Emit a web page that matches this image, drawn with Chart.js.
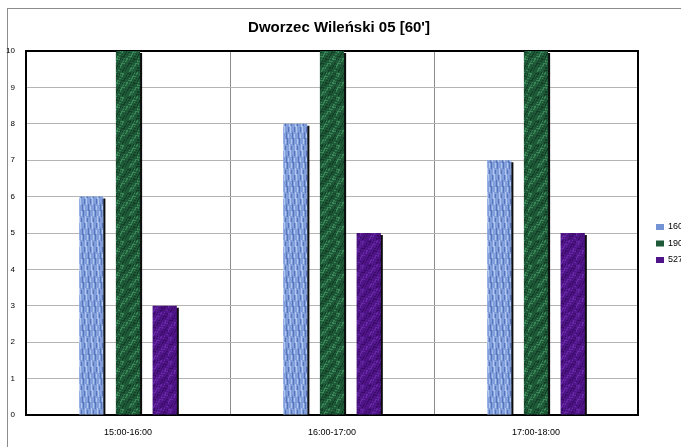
<!DOCTYPE html>
<html>
<head>
<meta charset="utf-8">
<script src="https://cdn.jsdelivr.net/npm/chart.js@4"></script>
<style>
  html, body { margin: 0; padding: 0; background: #fff; overflow: hidden; }
  #wrap { width: 681px; height: 447px; }
</style>
</head>
<body>
<div id="wrap"><canvas id="myChart" width="681" height="447"></canvas></div>
<script>
// data
const chartTitle = "Dworzec Wileński 05 [60']";
const hours = ["15:00-16:00", "16:00-17:00", "17:00-18:00"];
const lines = ["160", "190", "527"];
const line160 = [6, 8, 7];
const line190 = [10, 10, 10];
const line527 = [3, 5, 5];
const yTicks = [0, 1, 2, 3, 4, 5, 6, 7, 8, 9, 10];

// small textures to imitate the office-style fills
function makeTexture(base, dark, light, kind) {
  const c = document.createElement("canvas");
  c.width = 24; c.height = 24;
  const g = c.getContext("2d");
  g.fillStyle = base;
  g.fillRect(0, 0, 24, 24);
  for (let x = 0; x < 24; x++) {
    for (let y = 0; y < 24; y++) {
      let v;
      if (kind === "water") {
        v = Math.sin(x * 1.05 + Math.sin(y * 0.52) * 1.6) + 0.6 * Math.sin(x * 2.1 - y * 0.26);
      } else {
        v = Math.sin(x * 0.9 + y * 1.7) * Math.cos(x * 1.4 - y * 0.6) + Math.sin((x + y) * 0.45);
      }
      if (v > 0.9) { g.fillStyle = light; g.fillRect(x, y, 1, 1); }
      else if (v < -0.9) { g.fillStyle = dark; g.fillRect(x, y, 1, 1); }
    }
  }
  return g.createPattern(c, "repeat");
}

const blueFill = makeTexture("#829fdc", "#5676bb", "#b2c7ef", "water");
const greenFill = makeTexture("#1f5a38", "#143f27", "#3a8558", "marble");
const purpleFill = makeTexture("#4e1488", "#3a0c68", "#6628a2", "marble");
const swatch = ["#7394d4", "#1f5a38", "#4e1488"];

const ctx = document.getElementById("myChart").getContext("2d");

// frame, title, plot box, bar shadow and legend
const decor = {
  id: "decor",
  beforeDraw(chart) {
    const c = chart.ctx;
    c.save();
    c.fillStyle = "#fff";
    c.fillRect(0, 0, chart.width, chart.height);
    c.strokeStyle = "#8c8c8c";
    c.lineWidth = 1;
    c.strokeRect(7.5, 8.5, 720, 500);
    c.fillStyle = "#000";
    c.font = "bold 15px 'Liberation Sans'";
    c.textAlign = "center";
    c.textBaseline = "middle";
    c.fillText(chartTitle, 339, 28);
    c.restore();
  },
  beforeDatasetsDraw(chart) {
    const c = chart.ctx;
    const a = chart.chartArea;
    c.save();
    c.strokeStyle = "#000";
    c.lineWidth = 2;
    c.strokeRect(a.left, a.top, a.right - a.left, a.bottom - a.top);
    c.restore();
    c.save();
    c.shadowColor = "rgba(0,0,0,0.95)";
    c.shadowOffsetX = 2;
    c.shadowOffsetY = 2;
    c.shadowBlur = 0;
  },
  afterDatasetsDraw(chart) {
    chart.ctx.restore();
  },
  afterDraw(chart) {
    const c = chart.ctx;
    c.save();
    c.font = "9px 'Liberation Sans'";
    c.textBaseline = "middle";
    chart.data.datasets.forEach((ds, i) => {
      const y = 227 + i * 16.5;
      c.fillStyle = swatch[i];
      c.fillRect(656, y - 3, 8, 6);
      c.fillStyle = "#000";
      c.fillText(ds.label, 668, y);
    });
    c.restore();
  }
};

const myChart = new Chart(ctx, {
  type: "bar",
  data: {
    labels: hours,
    datasets: [
      { label: lines[0], data: line160, backgroundColor: blueFill },
      { label: lines[1], data: line190, backgroundColor: greenFill },
      { label: lines[2], data: line527, backgroundColor: purpleFill }
    ]
  },
  options: {
    responsive: false,
    animation: false,
    events: [],
    datasets: {
      bar: {
        categoryPercentage: 0.54,
        barPercentage: 0.66,
        borderWidth: 0
      }
    },
    layout: { padding: { left: 0, right: 43, top: 51, bottom: 0 } },
    plugins: {
      legend: { display: false },
      tooltip: { enabled: false },
      title: { display: false }
    },
    scales: {
      x: {
        grid: { color: "#8c8c8c", lineWidth: 1, drawTicks: false },
        border: { display: false },
        ticks: { color: "#000", font: { family: "'Liberation Sans'", size: 9 }, padding: 12 },
        afterFit(scale) { scale.height = 32; }
      },
      y: {
        min: 0,
        max: 10,
        afterBuildTicks(scale) { scale.ticks = yTicks.map(v => ({ value: v })); },
        grid: { color: "#b4b4b4", lineWidth: 1, drawTicks: false },
        border: { display: false },
        ticks: { color: "#000", font: { family: "'Liberation Sans'", size: 8 }, padding: 11 },
        afterFit(scale) { scale.width = 26; }
      }
    }
  },
  plugins: [decor]
});
</script>
</body>
</html>
